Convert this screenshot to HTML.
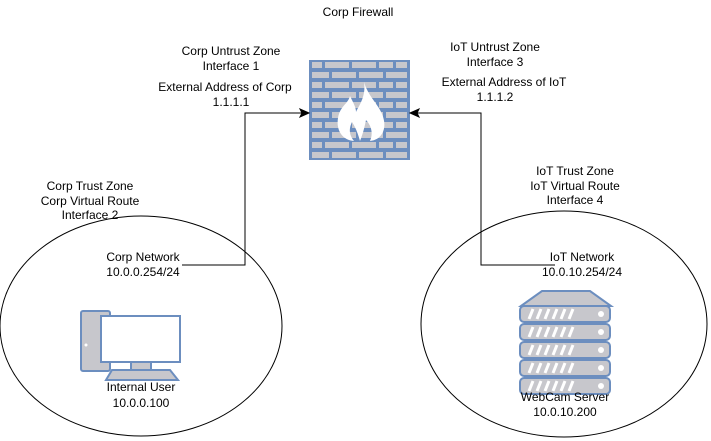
<!DOCTYPE html>
<html><head><style>body{margin:0;background:#fff}svg{display:block}text{font-family:"Liberation Sans",sans-serif;font-size:12px;fill:#000;text-anchor:middle}</style></head>
<body>
<svg width="711" height="441" viewBox="0 0 711 441" xmlns="http://www.w3.org/2000/svg">
<defs>
<pattern id="br" x="309" y="60" width="101" height="20" patternUnits="userSpaceOnUse">
<rect width="101" height="20" fill="#6c8ebf"/>
<g fill="#c7c7cc">
<rect x="3" y="2" width="10" height="6"/><rect x="16" y="2" width="24" height="6"/><rect x="43" y="2" width="24" height="6"/><rect x="70" y="2" width="14" height="6"/><rect x="87" y="2" width="11" height="6"/>
<rect x="3" y="12" width="17" height="6"/><rect x="23" y="12" width="24" height="6"/><rect x="50" y="12" width="24" height="6"/><rect x="77" y="12" width="21" height="6"/>
</g></pattern>
</defs>
<text x="358" y="16">Corp Firewall</text>
<rect x="309" y="60" width="101" height="100" fill="url(#br)"/>
<path d="M364 82 C368 96 378 104 382 114 C388 128 382 140 370 141 C374 132 370 124 366 120 C364 130 362 136 360 141 C358 134 356 128 352 122 C348 130 350 136 354 141 C342 140 336 130 338 118 C340 106 348 104 350 96 C354 104 356 108 356 112 C360 104 366 96 364 82 Z" fill="#fff"/>
<text x="231" y="55">Corp Untrust Zone</text><text x="231" y="70">Interface 1</text>
<text x="225" y="91">External Address of Corp</text><text x="231" y="106">1.1.1.1</text>
<text x="495" y="51">IoT Untrust Zone</text><text x="495" y="66">Interface 3</text>
<text x="504" y="86">External Address of IoT</text><text x="495" y="101">1.1.1.2</text>
<text x="90" y="190">Corp Trust Zone</text><text x="90" y="205">Corp Virtual Route</text><text x="90" y="219">Interface 2</text>
<text x="575" y="175">IoT Trust Zone</text><text x="575" y="190">IoT Virtual Route</text><text x="575" y="204">Interface 4</text>
<ellipse cx="141" cy="326" rx="141" ry="110" fill="none" stroke="#000"/>
<ellipse cx="564" cy="324" rx="143" ry="113" fill="none" stroke="#000"/>
<path d="M182 265 H245 V113 H302" fill="none" stroke="#000"/>
<path d="M309 113 L300 109 L302 113 L300 117 Z" fill="#000" stroke="#000"/>
<path d="M555 265 H481 V113 H417" fill="none" stroke="#000"/>
<path d="M410 113 L419 109 L417 113 L419 117 Z" fill="#000" stroke="#000"/>
<text x="143" y="261">Corp Network</text><text x="143" y="276">10.0.0.254/24</text>
<text x="582" y="261">IoT Network</text><text x="582" y="276">10.0.10.254/24</text>
<g stroke="#6c8ebf" stroke-width="2">
<rect x="81" y="311" width="29" height="60" rx="2" fill="#c7c7cc"/>
<rect x="101" y="316" width="79" height="46" fill="#fff"/>
<rect x="131" y="362" width="20" height="8" fill="#c7c7cc"/>
<path d="M112 370 H170 L178 380 H106 Z" fill="#c7c7cc"/>
</g>
<rect x="104" y="319" width="73" height="40" fill="#fff"/>
<circle cx="86" cy="345" r="1.5" fill="#fff"/>
<text x="141" y="391">Internal User</text><text x="141" y="407">10.0.0.100</text>
<g stroke="#6c8ebf" stroke-width="2" fill="#c7c7cc">
<path d="M521 306 L542 291 H590 L611 306 Z"/>
<rect x="520" y="306" width="90" height="16" rx="4"/>
<rect x="520" y="324" width="90" height="16" rx="4"/>
<rect x="520" y="342" width="90" height="16" rx="4"/>
<rect x="520" y="360" width="90" height="16" rx="4"/>
<rect x="520" y="378" width="90" height="16" rx="4"/>
</g>
<g fill="#fff">
<circle cx="601" cy="314" r="3"/><circle cx="601" cy="332" r="3"/><circle cx="601" cy="350" r="3"/><circle cx="601" cy="368" r="3"/><circle cx="601" cy="386" r="3"/>
</g>
<g stroke="#fff" stroke-width="3">
<path d="M529 319 l4 -10 M537 319 l4 -10 M545 319 l4 -10 M553 319 l4 -10 M561 319 l4 -10 M569 319 l4 -10"/>
<path d="M529 337 l4 -10 M537 337 l4 -10 M545 337 l4 -10 M553 337 l4 -10 M561 337 l4 -10 M569 337 l4 -10"/>
<path d="M529 355 l4 -10 M537 355 l4 -10 M545 355 l4 -10 M553 355 l4 -10 M561 355 l4 -10 M569 355 l4 -10"/>
<path d="M529 373 l4 -10 M537 373 l4 -10 M545 373 l4 -10 M553 373 l4 -10 M561 373 l4 -10 M569 373 l4 -10"/>
<path d="M529 391 l4 -10 M537 391 l4 -10 M545 391 l4 -10 M553 391 l4 -10 M561 391 l4 -10 M569 391 l4 -10"/>
</g>
<text x="565" y="401">WebCam Server</text><text x="565" y="416">10.0.10.200</text>
</svg>
</body></html>
